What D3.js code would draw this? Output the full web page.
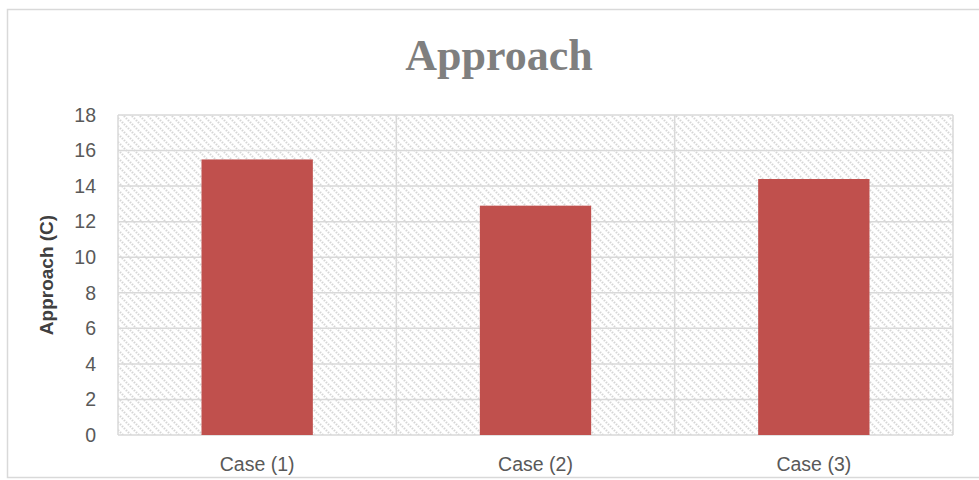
<!DOCTYPE html>
<html><head><meta charset="utf-8">
<script src="https://cdn.jsdelivr.net/npm/d3@7"></script>
<style>html,body{margin:0;padding:0;background:#fff;}svg{display:block;}</style>
</head><body>
<script>
const categories = ["Case (1)", "Case (2)", "Case (3)"];
const values = [15.5, 12.9, 14.4];
const yTicks = [0, 2, 4, 6, 8, 10, 12, 14, 16, 18];
const chartTitle = "Approach";
const yTitle = "Approach (C)";

const W = 979, H = 480;
const plot = {left: 118, right: 953, top: 115, bottom: 435};

const svg = d3.select("body").append("svg").attr("width", W).attr("height", H);

const defs = svg.append("defs");
const pat = defs.append("pattern").attr("id", "hatch").attr("patternUnits", "userSpaceOnUse")
  .attr("width", 8).attr("height", 8);
pat.append("rect").attr("width", 8).attr("height", 8).attr("fill", "#fff");
pat.append("path").attr("d", "M-2,-2 L10,10 M-2,6 L2,10 M6,-2 L10,2")
  .attr("stroke", "#d6d6d6").attr("stroke-width", 2.2).attr("stroke-dasharray", "1.5 1.3");

// outer frame
svg.append("rect").attr("x", 7.5).attr("y", 9.5).attr("width", 990).attr("height", 468)
  .attr("fill", "#fff").attr("stroke", "#d9d9d9").attr("stroke-width", 1.5);

const x = d3.scaleBand().domain(categories).range([plot.left, plot.right]).padding(0);
const y = d3.scaleLinear().domain([0, 18]).range([plot.bottom, plot.top]);

// plot background hatch
svg.append("rect").attr("x", plot.left).attr("y", plot.top)
  .attr("width", plot.right - plot.left).attr("height", plot.bottom - plot.top)
  .attr("fill", "url(#hatch)");

// horizontal gridlines
svg.append("g").selectAll("line").data(yTicks).join("line")
  .attr("x1", plot.left).attr("x2", plot.right)
  .attr("y1", d => y(d)).attr("y2", d => y(d))
  .attr("stroke", "#d9d9d9").attr("stroke-width", 1.5);

// vertical gridlines at category boundaries + edges
const vBounds = categories.map(c => x(c)).concat([plot.right]);
svg.append("g").selectAll("line").data(vBounds).join("line")
  .attr("x1", d => d).attr("x2", d => d)
  .attr("y1", plot.top).attr("y2", plot.bottom)
  .attr("stroke", "#d9d9d9").attr("stroke-width", 1.5);

// bars
const bw = x.bandwidth() / 2.5;
svg.append("g").selectAll("rect").data(values).join("rect")
  .attr("x", (d, i) => x(categories[i]) + (x.bandwidth() - bw) / 2)
  .attr("width", bw)
  .attr("y", d => y(d))
  .attr("height", d => y(0) - y(d))
  .attr("fill", "#c0504d");

// y axis
const yAxis = d3.axisLeft(y).tickValues(yTicks).tickSize(0).tickPadding(22);
const gy = svg.append("g").attr("transform", `translate(${plot.left},0)`).call(yAxis);
gy.select(".domain").remove();
gy.selectAll("text").attr("font-family", "Liberation Sans, Arial, sans-serif")
  .attr("font-size", 19.5).attr("fill", "#595959");

// x axis
const xAxis = d3.axisBottom(x).tickSize(0).tickPadding(22);
const gx = svg.append("g").attr("transform", `translate(0,${plot.bottom})`).call(xAxis);
gx.select(".domain").remove();
gx.selectAll("text").attr("font-family", "Liberation Sans, Arial, sans-serif")
  .attr("font-size", 19.5).attr("fill", "#595959");

// title
svg.append("text").attr("x", 499).attr("y", 70).attr("text-anchor", "middle")
  .attr("font-family", "Liberation Serif, Times New Roman, serif").attr("font-weight", "bold")
  .attr("font-size", 44).attr("fill", "#7f7f7f").text(chartTitle);

// y title
svg.append("text").attr("transform", `translate(53,${(plot.top + plot.bottom) / 2}) rotate(-90)`)
  .attr("text-anchor", "middle")
  .attr("font-family", "Liberation Sans, Arial, sans-serif").attr("font-weight", "bold")
  .attr("font-size", 19).attr("fill", "#404040").text(yTitle);
</script>
</body></html>
